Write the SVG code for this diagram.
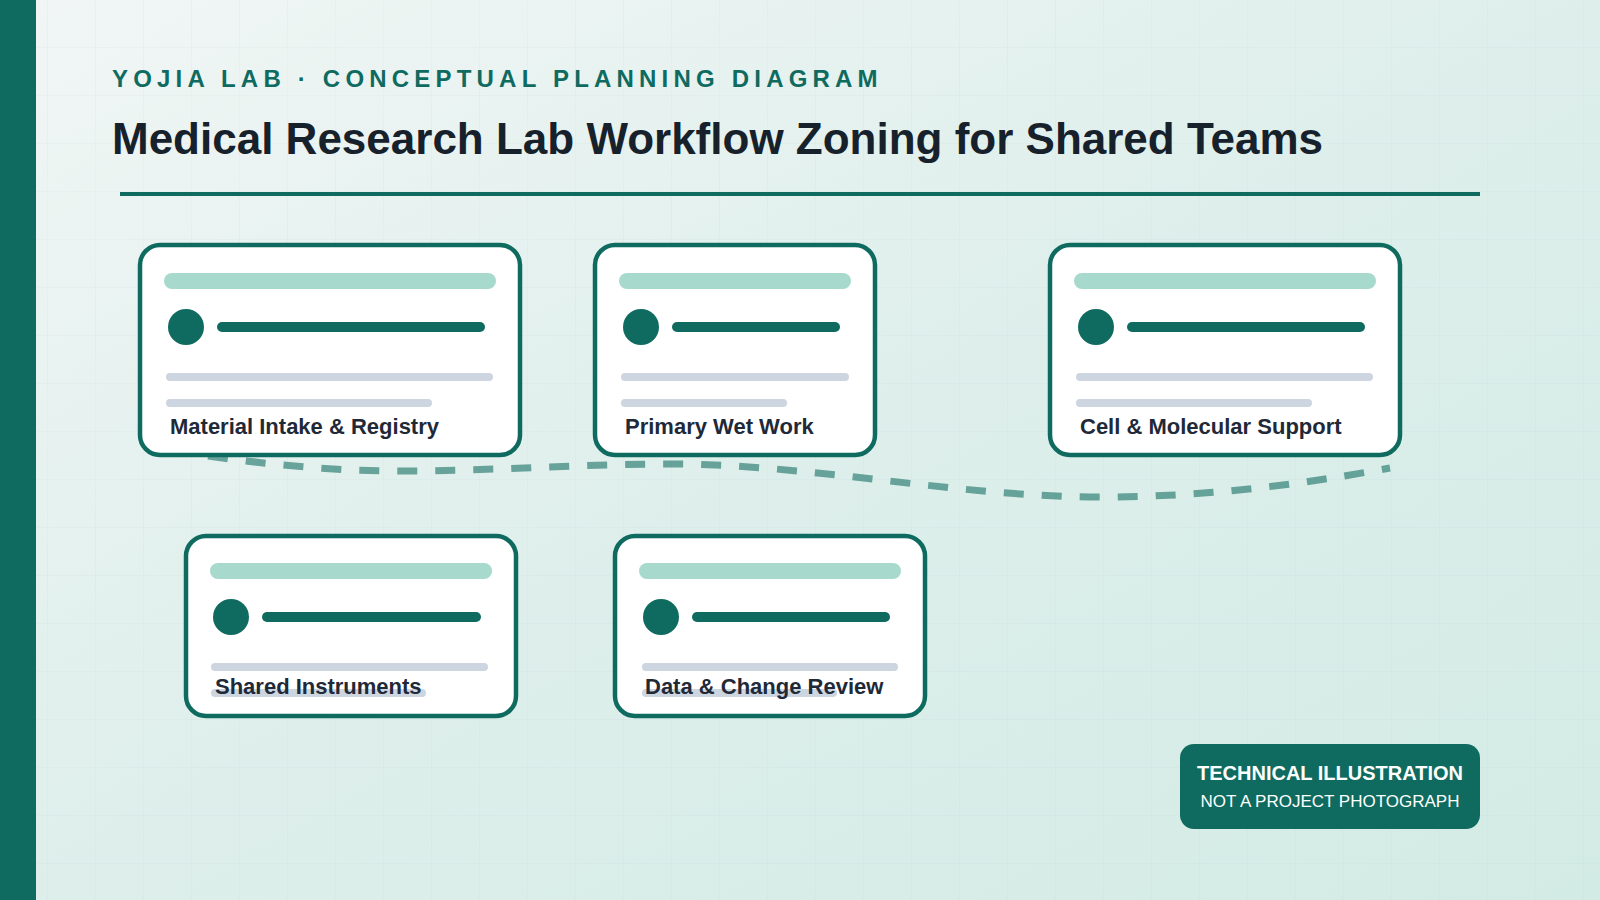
<svg xmlns="http://www.w3.org/2000/svg" width="1600" height="900" viewBox="0 0 1600 900">
  <defs>
    <linearGradient id="bg" x1="0" y1="0" x2="1" y2="1">
      <stop offset="0" stop-color="#f1f6f5"/>
      <stop offset="0.5" stop-color="#deefeb"/>
      <stop offset="1" stop-color="#d3ebe5"/>
    </linearGradient>
    <pattern id="grid" width="48" height="48" patternUnits="userSpaceOnUse">
      <path d="M48 0 V48 M0 48 H48" fill="none" stroke="#0f6b5f" stroke-opacity="0.05" stroke-width="1"/>
    </pattern>
  </defs>
  <style>
    .card { fill: #ffffff; stroke: #0f6b5f; stroke-width: 4.5; }
    .bar { stroke: #a7d9cd; stroke-width: 16; stroke-linecap: round; }
    .dark { stroke: #0f6b5f; stroke-width: 10; stroke-linecap: round; }
    .gray { stroke: #cdd5e0; stroke-width: 8; stroke-linecap: round; }
    .dot { fill: #0f6b5f; }
    .label { font-family: "Liberation Sans", Arial, sans-serif; font-weight: bold; font-size: 22px; fill: #1f2937; }
    .conn { fill: none; stroke: #0f6b5f; stroke-opacity: 0.58; stroke-width: 7; stroke-dasharray: 20 18; }
  </style>
  <rect width="1600" height="900" fill="url(#bg)"/>
  <rect width="1600" height="900" fill="url(#grid)"/>
  <rect x="0" y="0" width="36" height="900" fill="#0f6b5f"/>

  <text x="112" y="87" font-family="Liberation Sans, Arial, sans-serif" font-weight="bold" font-size="24" letter-spacing="5.2" fill="#0f6b5f">YOJIA LAB · CONCEPTUAL PLANNING DIAGRAM</text>
  <text x="112" y="154" font-family="Liberation Sans, Arial, sans-serif" font-weight="bold" font-size="44" fill="#17212b">Medical Research Lab Workflow Zoning for Shared Teams</text>
  <line x1="120" y1="194" x2="1480" y2="194" stroke="#0f6b5f" stroke-width="4"/>

  <g id="connectors">
    <path class="conn" d="M208 456 C272 465 336 471 400 471 C490 471 580 464 670 464 C813 464 957 497 1100 497 C1200 497 1293 486 1390 468"/>
  </g>

  <g id="node-material-intake">
    <rect class="card" x="140" y="245" width="380" height="210" rx="20"/>
    <line class="bar" x1="172" y1="281" x2="488" y2="281"/>
    <circle class="dot" cx="186" cy="327" r="18"/>
    <line class="dark" x1="222" y1="327" x2="480" y2="327"/>
    <line class="gray" x1="170" y1="377" x2="489" y2="377"/>
    <line class="gray" x1="170" y1="403" x2="428" y2="403"/>
    <text class="label" x="170" y="434">Material Intake &amp; Registry</text>
  </g>

  <g id="node-primary-wet-work">
    <rect class="card" x="595" y="245" width="280" height="210" rx="20"/>
    <line class="bar" x1="627" y1="281" x2="843" y2="281"/>
    <circle class="dot" cx="641" cy="327" r="18"/>
    <line class="dark" x1="677" y1="327" x2="835" y2="327"/>
    <line class="gray" x1="625" y1="377" x2="845" y2="377"/>
    <line class="gray" x1="625" y1="403" x2="783" y2="403"/>
    <text class="label" x="625" y="434">Primary Wet Work</text>
  </g>

  <g id="node-cell-molecular">
    <rect class="card" x="1050" y="245" width="350" height="210" rx="20"/>
    <line class="bar" x1="1082" y1="281" x2="1368" y2="281"/>
    <circle class="dot" cx="1096" cy="327" r="18"/>
    <line class="dark" x1="1132" y1="327" x2="1360" y2="327"/>
    <line class="gray" x1="1080" y1="377" x2="1369" y2="377"/>
    <line class="gray" x1="1080" y1="403" x2="1308" y2="403"/>
    <text class="label" x="1080" y="434">Cell &amp; Molecular Support</text>
  </g>

  <g id="node-shared-instruments">
    <rect class="card" x="186" y="536" width="330" height="180" rx="20"/>
    <line class="bar" x1="218" y1="571" x2="484" y2="571"/>
    <circle class="dot" cx="231" cy="617" r="18"/>
    <line class="dark" x1="267" y1="617" x2="476" y2="617"/>
    <line class="gray" x1="215" y1="667" x2="484" y2="667"/>
    <line class="gray" x1="215" y1="693" x2="422" y2="693"/>
    <text class="label" x="215" y="694">Shared Instruments</text>
  </g>

  <g id="node-data-change-review">
    <rect class="card" x="615" y="536" width="310" height="180" rx="20"/>
    <line class="bar" x1="647" y1="571" x2="893" y2="571"/>
    <circle class="dot" cx="661" cy="617" r="18"/>
    <line class="dark" x1="697" y1="617" x2="885" y2="617"/>
    <line class="gray" x1="646" y1="667" x2="894" y2="667"/>
    <line class="gray" x1="646" y1="693" x2="833" y2="693"/>
    <text class="label" x="645" y="694">Data &amp; Change Review</text>
  </g>

  <g id="badge">
    <rect x="1180" y="744" width="300" height="85" rx="14" fill="#0f6b5f"/>
    <text x="1330" y="780" text-anchor="middle" font-family="Liberation Sans, Arial, sans-serif" font-weight="bold" font-size="20" fill="#ffffff">TECHNICAL ILLUSTRATION</text>
    <text x="1330" y="807" text-anchor="middle" font-family="Liberation Sans, Arial, sans-serif" font-size="17" fill="#ffffff">NOT A PROJECT PHOTOGRAPH</text>
  </g>
</svg>
